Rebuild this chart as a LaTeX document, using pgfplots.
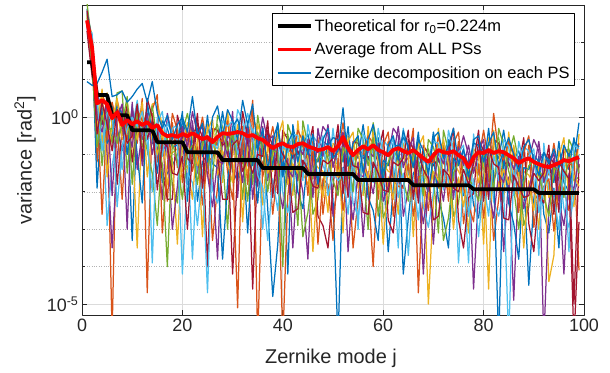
\documentclass[border=0pt]{standalone}
\usepackage{fontspec}
\setmainfont{Liberation Sans}
\usepackage{pgfplots}
\usepackage{pgfplotstable}
\pgfplotsset{compat=1.18}
\definecolor{cA}{HTML}{0072BD}
\definecolor{cB}{HTML}{D95319}
\definecolor{cC}{HTML}{EDB120}
\definecolor{cD}{HTML}{7E2F8E}
\definecolor{cE}{HTML}{77AC30}
\definecolor{cF}{HTML}{4DBEEE}
\definecolor{cG}{HTML}{A2142F}
\definecolor{axgray}{HTML}{262626}
% values are log10 of the variance [rad^2]
\pgfplotstableread{
j th avg b0 c1 c2 c3 c4 c5 c6 c7 c8 c9 c10 c11 c12 c13 c14
1 1.47 2.59 0.95 2.9 2.5 2.7 2.4 3.05 2.6 2.3 2.8 2.55 2.65 2.45 2.75 2.35 2.85
2 1.47 1.87 0.85 2.0 1.6 2.2 1.3 1.9 1.75 1.1 2.1 1.5 1.85 1.95 1.4 2.25 1.7
3 0.59 0.37 0.9 0.7 -1.2 0.4 -0.1 0.55 -0.6 0.2 -1.9 0.3 -0.3 0.0 -0.8 0.45 -0.45
4 0.59 0.45 1.2 0.1 0.6 -0.7 0.35 -1.3 0.5 -0.2 0.25 -2.6 0.75 -0.4 0.05 -0.9 0.4
5 0.59 0.35 1.55 -0.5 0.3 0.65 -1.0 0.2 -2.9 0.5 -0.7 0.0 -1.6 0.4 -0.35 0.1 -0.2
6 0.05 -0.03 0.55 0.3 -5.8 -0.2 -3.5 -0.7 -1.3 0.05 -0.45 0.4 -0.1 -2.1 -0.3 0.2 -0.9
7 0.05 0.13 0.6 -0.3 0.45 0.1 -1.1 0.65 -0.5 -1.8 0.3 -0.2 0.5 0.0 -0.7 -2.4 0.2
8 0.05 -0.21 0.7 -0.9 -0.1 -0.5 0.2 0.7 -1.4 -0.3 0.1 -2.2 -0.6 0.35 -0.2 -0.8 0.0
9 0.05 -0.08 0.4 0.2 -0.6 0.4 -0.2 -1.5 0.0 0.3 -1.0 0.1 -0.4 -3.0 0.55 -0.3 -0.7
10 -0.35 -0.19 0.55 -3.3 0.25 -0.4 -0.8 0.1 -0.3 -1.2 0.3 -0.55 -0.1 0.4 -1.8 0.0 -0.5
11 -0.35 -0.11 0.75 0.0 -0.7 -3.5 0.3 -0.4 0.45 -0.2 -1.0 0.2 -0.6 -1.4 0.1 -0.25 0.35
12 -0.35 -0.21 0.9 -0.6 0.5 0.1 -1.3 -0.2 -0.5 0.25 -2.3 -0.1 0.4 -0.4 -0.8 0.15 -1.1
13 -0.35 -0.13 0.4 0.3 -4.7 -0.3 0.0 -0.9 0.2 -0.6 0.4 -0.2 -1.6 0.1 -0.4 -0.7 0.5
14 -0.35 -0.29 0.95 -0.4 0.1 0.35 -0.7 -1.5 -3.9 -0.1 -0.5 0.2 -0.3 -1.0 0.3 -2.0 0.0
15 -0.67 -0.21 0.1 -0.5 -1.2 0.4 -0.8 -2.9 -0.15 -0.4 -1.5 0.6 -1.0 -0.25 -0.65 0.0 -1.95
16 -0.67 -0.43 -0.3 -1.75 -0.5 -0.25 -2.2 -0.75 0.15 -1.45 -0.1 -3.1 -0.4 -0.9 -1.25 -1.05 -0.65
17 -0.67 -0.51 0.05 -1.5 -2.25 -1.1 0.1 -0.55 -0.95 -2.2 -0.3 -1.3 -1.8 -0.7 -4.0 -0.15 -0.8
18 -0.67 -0.48 -0.6 -1.3 -0.15 -0.95 -0.55 -1.8 -0.3 -2.2 -0.8 0.1 -1.1 -3.0 -0.7 -0.45 -1.5
19 -0.67 -0.53 -0.2 -1.0 -1.35 -0.85 -0.5 -2.3 -0.2 0.05 -0.75 -0.35 -3.4 -1.85 -1.15 -0.6 -1.55
20 -0.67 -0.45 0.0 -0.1 -0.9 -1.45 -0.65 -0.4 -1.25 -0.5 0.15 -1.75 -0.75 -0.25 -2.2 -4.2 -1.05
21 -0.94 -0.51 -0.4 -0.55 -0.3 -1.3 -1.8 0.1 -0.7 -1.1 -2.25 -0.45 -0.15 -0.8 -0.95 -1.5 -3.0
22 -0.94 -0.43 0.55 -0.25 -1.05 -2.2 -0.1 -0.65 -3.8 -1.25 -0.4 -1.45 -0.5 0.15 -0.75 -1.75 -0.9
23 -0.94 -0.51 -0.5 -2.25 -0.7 -0.55 -1.5 -0.95 -1.1 -0.15 -0.3 -0.8 -1.3 -0.45 -1.8 -2.9 0.1
24 -0.94 -0.59 -0.16 -1.2 0.0 -3.2 -0.4 -1.6 -0.9 -0.55 -1.05 -2.35 -0.8 -0.25 -0.65 -1.4 -1.9
25 -0.94 -0.53 -1.2 -1.0 -0.85 -0.2 -1.0 -1.35 -0.6 -4.0 0.05 -1.15 -0.35 -1.55 -0.75 -4.7 -0.5
26 -0.94 -0.67 0.0 -0.6 -3.3 -0.85 -1.45 -0.45 -1.95 -0.3 -1.25 -1.1 -0.05 -2.4 -1.65 -0.7 -0.95
27 -0.94 -0.53 0.3 -0.75 -1.85 -0.5 -3.8 -0.2 -2.3 -0.35 -1.35 -0.6 -1.55 -1.15 0.05 -0.85 -1.0
28 -1.15 -0.43 -0.5 0.15 -0.4 -1.75 -0.5 -1.05 -1.45 -0.75 -3.8 -0.65 -0.9 -1.25 -0.25 -0.1 -2.2
29 -1.15 -0.45 0.2 -0.75 -1.45 0.15 -1.05 -3.0 -0.4 -0.65 -1.75 -0.1 -1.25 -0.5 -0.9 -0.25 -2.2
30 -1.15 -0.43 -0.1 -1.45 -2.2 -1.05 0.15 -0.5 -0.9 -4.2 -0.25 -1.25 -1.75 -0.65 -0.4 -0.1 -0.75
31 -1.15 -0.40 -0.6 -1.7 -0.45 -0.2 -2.15 -0.7 0.2 -1.4 -0.05 -5.1 -0.35 -0.85 -1.2 -1.0 -0.6
32 -1.15 -0.43 0.45 -0.9 -1.25 -0.75 -0.4 -2.2 -0.1 0.15 -0.65 -0.25 -2.8 -1.75 -1.05 -0.5 -1.45
33 -1.15 -0.51 -0.2 -0.15 -0.95 -1.5 -0.7 -0.45 -1.3 -0.55 -3.1 -1.8 -0.8 -0.3 -2.25 0.1 -1.1
34 -1.15 -0.48 0.35 -1.3 0.45 -0.95 -0.55 -1.8 -0.3 -4.6 -0.8 0.1 -1.1 -2.2 -0.7 -0.45 -1.5
35 -1.15 -0.56 -0.9 -0.6 -6.0 -1.35 -1.85 0.05 -0.75 -1.15 -2.3 -0.5 -0.2 -0.85 -0.4 -1.55 -1.0
36 -1.36 -0.61 -0.3 -0.4 -1.2 -2.35 -0.25 -0.8 -3.0 -1.4 -0.55 -1.6 -0.65 0.0 -0.9 -1.9 -1.05
37 -1.36 -0.72 -1.4 -2.45 -0.9 -0.75 -1.7 -1.15 -1.3 -0.35 -0.5 -1.0 -1.5 -0.65 -2.0 -3.3 -0.1
38 -1.36 -0.83 -0.6 -4.8 -0.25 -1.45 -0.65 -1.85 -1.15 -0.8 -1.3 -2.6 -1.05 -0.5 -0.9 -1.65 -2.15
39 -1.36 -0.75 -0.2 -3.4 -1.05 -0.4 -1.2 -1.55 -0.8 -2.05 -0.15 -1.35 -0.55 -1.75 -0.95 -2.5 -0.7
40 -1.36 -0.70 -1.6 -0.65 -6.0 -0.9 -1.5 -0.5 -2.0 -0.35 -1.3 -1.15 -0.1 -2.45 -4.0 -0.75 -1.0
41 -1.36 -0.78 -0.7 -4.2 -2.1 -0.75 -1.1 -0.45 -2.55 -0.6 -1.6 -0.85 -1.8 -1.4 -0.2 -0.95 -1.25
42 -1.36 -0.80 -0.4 -0.2 -0.75 -2.1 -3.5 -1.4 -1.8 -1.1 -0.85 -1.0 -1.25 -1.6 -0.6 -0.45 -2.55
43 -1.36 -0.72 -1.2 -1.0 -1.7 -0.1 -1.3 -2.9 -0.65 -0.9 -2.0 -0.35 -1.5 -0.75 -1.15 -0.5 -2.45
44 -1.36 -0.70 -0.5 -0.75 -0.5 -1.5 -2.0 -0.1 -0.9 -1.3 -2.45 -0.65 -0.35 -1.0 -3.2 -1.7 -1.15
45 -1.52 -0.78 -1.0 -0.45 -1.25 -1.8 -3.8 -0.75 -1.6 -0.85 -1.0 -2.1 -1.1 -0.6 -2.55 -0.2 -1.4
46 -1.52 -0.83 -0.45 -1.3 -1.65 -1.15 -0.8 -2.6 -0.5 -0.25 -1.05 -0.65 -3.6 -2.15 -1.45 -0.9 -1.85
47 -1.52 -0.88 -1.8 -1.7 -0.55 -1.35 -0.95 -2.2 -0.7 -2.65 -1.2 -3.4 -1.5 -0.3 -1.1 -0.85 -1.9
48 -1.52 -0.86 -0.6 -1.9 -2.6 -1.45 -0.25 -0.9 -1.3 -2.9 -0.65 -1.65 -2.15 -1.05 -0.8 -0.5 -1.15
49 -1.52 -0.80 -0.3 -0.6 -1.4 -2.55 -0.45 -1.0 -1.6 -3.5 -0.75 -1.8 -0.85 -0.2 -1.1 -2.1 -1.25
50 -1.52 -0.91 -1.1 -2.2 -0.95 -0.7 -2.65 -1.2 -0.3 -1.9 -0.55 -3.3 -0.85 -1.35 -1.7 -1.5 -1.1
51 -1.52 -0.78 -0.9 -6.0 -1.0 -0.85 -1.8 -1.25 -1.4 -0.45 -0.6 -1.1 -1.6 -0.75 -2.1 -1.7 -0.2
52 -1.52 -0.53 0.25 -1.35 -0.15 -3.1 -0.55 -1.75 -1.05 -0.7 -1.2 -2.5 -0.95 -0.4 -0.8 -1.55 -2.05
53 -1.52 -0.83 -1.3 -1.3 -1.15 -0.5 -3.6 -1.65 -0.9 -2.15 -0.25 -1.45 -0.65 -1.85 -1.05 -2.6 -0.8
54 -1.52 -1.02 -0.7 -0.95 -3.5 -1.2 -1.8 -0.8 -2.3 -0.65 -1.6 -1.45 -0.4 -2.75 -2.0 -1.05 -1.3
55 -1.68 -0.88 -0.5 -1.1 -2.2 -0.85 -1.2 -0.55 -2.65 -0.7 -1.7 -0.95 -1.9 -1.5 -0.3 -3.0 -1.35
56 -1.68 -0.78 -1.5 -0.2 -0.75 -2.1 -3.2 -1.4 -1.8 -1.1 -0.85 -1.0 -1.25 -1.6 -0.6 -0.45 -2.55
57 -1.68 -0.86 -0.6 -1.15 -1.85 -0.25 -1.45 -3.0 -0.8 -1.05 -2.15 -0.5 -1.65 -0.9 -1.3 -0.65 -2.6
58 -1.68 -0.75 -0.2 -0.8 -4.0 -1.55 -2.05 -0.15 -0.95 -1.35 -2.5 -0.7 -0.4 -1.05 -0.55 -1.75 -1.2
59 -1.68 -0.88 -1.0 -0.55 -1.35 -1.9 -1.1 -0.85 -1.7 -0.95 -3.3 -2.2 -1.2 -0.7 -2.65 -0.3 -1.5
60 -1.68 -0.94 -1.7 -1.4 -1.75 -1.25 -0.9 -2.7 -0.6 -0.35 -1.15 -0.75 -3.4 -2.25 -1.55 -1.0 -1.95
61 -1.68 -1.02 -0.75 -3.6 -0.65 -1.45 -1.05 -2.3 -0.8 -2.75 -1.3 -0.4 -1.6 -1.85 -1.2 -0.95 -2.0
62 -1.68 -0.88 -0.5 -1.9 -2.65 -1.5 -0.3 -0.95 -1.35 -3.1 -0.7 -1.7 -2.2 -1.1 -0.85 -0.55 -1.2
63 -1.68 -0.83 -1.15 -0.65 -1.45 -2.6 -0.5 -1.05 -3.5 -1.65 -0.8 -1.85 -0.9 -0.25 -1.15 -2.15 -1.3
64 -1.68 -0.91 -0.35 -4.2 -0.95 -0.7 -2.65 -1.2 -0.3 -1.9 -0.55 -1.9 -0.85 -1.35 -1.7 -1.5 -1.1
65 -1.68 -0.96 -0.85 -2.7 -1.15 -1.0 -1.95 -1.4 -1.55 -0.6 -0.75 -1.25 -1.75 -0.9 -2.25 -3.7 -0.35
66 -1.82 -0.88 -1.35 -1.5 -0.3 -3.2 -0.7 -1.9 -1.2 -0.85 -1.35 -2.65 -1.1 -0.55 -0.95 -1.7 -2.2
67 -1.82 -0.99 -0.6 -1.3 -4.7 -0.65 -1.45 -1.8 -1.05 -2.3 -0.4 -1.6 -0.8 -2.0 -1.2 -2.75 -0.95
68 -1.82 -1.10 -0.9 -1.05 -1.7 -1.3 -4.2 -0.9 -2.4 -0.75 -1.7 -1.55 -0.5 -2.85 -2.1 -1.15 -1.4
69 -1.82 -1.20 -1.55 -1.4 -2.5 -5.0 -1.5 -0.85 -2.95 -1.0 -2.0 -1.25 -2.2 -1.8 -0.6 -1.35 -1.65
70 -1.82 -1.02 -0.55 -0.4 -0.95 -2.3 -3.4 -1.6 -2.0 -1.3 -1.05 -1.2 -1.45 -1.8 -0.8 -0.65 -2.75
71 -1.82 -0.88 -0.4 -1.2 -1.9 -0.3 -1.5 -3.1 -0.85 -1.1 -2.2 -0.55 -1.7 -0.95 -1.35 -0.7 -2.65
72 -1.82 -0.94 -1.1 -1.0 -0.75 -1.75 -2.25 -0.35 -1.15 -1.55 -2.7 -0.9 -0.6 -1.25 -3.3 -1.95 -1.4
73 -1.82 -0.96 -0.75 -0.6 -1.4 -1.95 -1.15 -0.9 -1.75 -1.0 -3.5 -2.25 -1.25 -0.75 -2.7 -0.35 -1.55
74 -1.82 -0.91 -0.3 -1.35 -1.7 -1.2 -0.85 -2.65 -0.55 -0.3 -1.1 -0.7 -3.0 -2.2 -1.5 -0.95 -1.9
75 -1.82 -1.02 -1.25 -1.8 -0.65 -1.45 -1.05 -2.3 -3.9 -2.75 -1.3 -0.4 -1.6 -0.8 -1.2 -0.95 -2.0
76 -1.82 -1.10 -0.85 -2.1 -2.85 -1.7 -0.5 -1.15 -1.55 -3.5 -0.9 -1.9 -2.4 -1.3 -1.05 -0.75 -1.4
77 -1.82 -1.34 -1.6 -1.15 -1.95 -3.1 -1.0 -1.55 -3.9 -2.15 -1.3 -2.35 -1.4 -0.75 -1.65 -2.65 -1.8
78 -1.93 -1.07 -0.6 -2.35 -1.1 -0.85 -4.6 -1.35 -0.45 -2.05 -0.7 -2.8 -1.0 -1.5 -1.85 -1.65 -1.25
79 -1.93 -0.94 -0.5 -2.7 -1.15 -1.0 -1.95 -1.4 -1.55 -0.6 -0.75 -1.25 -1.75 -0.9 -2.25 -3.2 -0.35
80 -1.93 -0.96 -1.2 -1.55 -0.35 -3.4 -0.75 -1.95 -1.25 -0.9 -1.4 -2.7 -1.15 -0.6 -1.0 -1.75 -2.25
81 -1.93 -0.88 -0.7 -0.7 -1.2 -0.55 -1.35 -1.7 -0.95 -2.2 -0.3 -1.5 -4.6 -1.9 -1.1 -2.65 -0.85
82 -1.93 -0.96 -0.4 -0.9 -3.3 -1.15 -1.75 -0.75 -2.25 -0.6 -1.55 0.1 -0.35 -2.7 -1.95 -1.0 -1.25
83 -1.93 -0.91 -1.3 -1.1 -2.2 -0.85 -1.2 -0.55 -2.65 -0.7 -6.0 -0.95 -1.9 -1.5 -0.3 -1.7 -1.35
84 -1.93 -0.94 -0.9 -0.35 -0.9 -2.25 -3.6 -1.55 -1.95 -1.25 -1.0 -1.15 -1.4 -1.75 -0.75 -0.6 -2.7
85 -1.93 -1.02 -0.55 -1.3 -2.0 -0.4 -1.6 -1.05 -6.0 -1.2 -2.3 -0.65 -1.8 -1.05 -1.45 -0.8 -2.75
86 -1.93 -1.10 -1.0 -1.15 -0.9 -1.9 -4.9 -0.5 -1.3 -1.7 -2.85 -1.05 -0.75 -1.4 -1.9 -2.1 -1.55
87 -1.93 -1.23 -1.45 -0.9 -1.7 -2.25 -1.45 -1.2 -2.05 -1.3 -3.8 -2.55 -1.55 -1.05 -3.0 -0.65 -1.85
88 -1.93 -1.15 -0.8 -1.6 -1.95 -1.45 -1.1 -2.9 -0.8 -0.55 -1.35 -0.95 -3.5 -2.45 -1.75 -1.2 -2.15
89 -1.93 -1.10 -0.6 -4.5 -0.75 -1.55 -1.15 -2.4 -0.9 -2.85 -1.4 -0.5 -1.7 -1.9 -1.3 -1.05 -2.1
90 -1.93 -1.20 -1.15 -2.2 -2.95 -1.8 -0.6 -1.25 -1.65 -3.6 -1.0 -2.0 -2.5 -1.4 -1.15 -0.85 -1.5
91 -2.03 -1.26 -1.55 -1.05 -1.85 -3.0 -0.9 -1.45 -3.7 -2.05 -1.2 -2.25 -1.3 -0.65 -1.55 -2.55 -1.7
92 -2.03 -1.31 -0.95 -2.6 -1.35 -1.1 -6.0 -1.6 -0.7 -2.3 -0.95 -1.85 -1.25 -1.75 -2.1 -1.9 -1.5
93 -2.03 -1.34 -1.25 -3.1 -1.55 -4.4 -2.35 -1.8 -1.95 -1.0 -1.15 -1.65 -2.15 -1.3 -2.65 -1.4 -0.75
94 -2.03 -1.28 -0.85 -1.9 -0.7 -3.7 -1.1 -2.3 -1.6 -1.25 -1.75 -3.05 -1.5 -0.95 -1.35 -2.1 -2.6
95 -2.03 -1.23 -1.35 -3.5 -1.55 -0.9 -1.7 -2.05 -1.3 -2.55 -0.65 -1.85 -1.05 -2.25 -1.45 -3.0 -1.2
96 -2.03 -1.15 -0.75 -1.1 -1.95 -1.35 -4.2 -0.95 -2.45 -0.8 -1.75 -1.6 -0.55 -2.9 -2.15 -1.2 -1.45
97 -2.03 -1.18 -1.05 -1.4 -2.5 -1.15 -1.5 -0.85 -2.95 -1.0 -2.0 -1.25 -2.2 -1.8 -0.6 -3.6 -1.65
98 -2.03 -1.12 -0.65 -0.55 -1.05 -2.4 -2.0 -1.7 -2.1 -5.0 -1.15 -1.3 -1.55 -1.9 -0.9 -0.75 -6.0
99 -2.03 -1.07 -0.8 -1.35 -4.1 -0.45 -1.65 -1.6 -1.0 -1.25 -0.15 -0.7 -1.85 -1.1 -1.5 -0.85 -2.8
}\zdata
\begin{document}
\begin{tikzpicture}
\path[use as bounding box] (-82bp,-58bp) rectangle (528bp,315bp);
\begin{axis}[
  scale only axis, width=502bp, height=310bp,
  xmin=0, xmax=100, ymin=-5.294, ymax=3,
  xtick={0,20,40,60,80,100}, xticklabels={0,20,40,60,80,100},
  ytick={-5,0}, yticklabels={10\textsuperscript{-5},10\textsuperscript{0}},
  minor ytick={-4,-3,-2,-1,1,2},
  tick align=inside, major tick length=5bp, minor tick length=3bp,
  grid=both,
  major grid style={black!14, line width=0.7bp},
  minor grid style={black!30, dotted, line width=0.7bp},
  axis line style={axgray, line width=0.9bp},
  every tick/.style={axgray, line width=0.8bp},
  ticklabel style={font=\fontsize{18}{20}\selectfont, text=axgray},
  xlabel={Zernike mode j},
  ylabel={variance [rad\textsuperscript{2}]},
  label style={font=\fontsize{20}{22}\selectfont, text=axgray},
  xlabel style={at={(axis description cs:0.496,-0.155)}, anchor=base},
  ylabel style={at={(axis description cs:-0.1135,0.5)}, anchor=center},
  legend style={at={(0.982,0.974)}, anchor=north east, draw=black, line width=0.8bp,
    fill=white, font=\fontsize{16.5}{18}\selectfont, inner xsep=3bp, inner ysep=4bp,
    row sep=6bp},
  legend cell align=left,
  legend image code/.code={\draw[#1] (0bp,0bp) -- (33bp,0bp);},
  line join=round,
]
\addlegendimage{black, line width=3.8bp}
\addlegendentry{Theoretical for r\textsubscript{0}=0.224m}
\addlegendimage{red, line width=3.8bp}
\addlegendentry{Average from ALL PSs}
\addlegendimage{cA, line width=1.2bp}
\addlegendentry{Zernike decomposition on each PS}
\addplot[forget plot, cA, line width=1.25bp] table[x=j, y=c1] {\zdata};
\addplot[forget plot, cB, line width=1.25bp] table[x=j, y=c2] {\zdata};
\addplot[forget plot, cC, line width=1.25bp] table[x=j, y=c3] {\zdata};
\addplot[forget plot, cD, line width=1.25bp] table[x=j, y=c4] {\zdata};
\addplot[forget plot, cE, line width=1.25bp] table[x=j, y=c5] {\zdata};
\addplot[forget plot, cF, line width=1.25bp] table[x=j, y=c6] {\zdata};
\addplot[forget plot, cG, line width=1.25bp] table[x=j, y=c7] {\zdata};
\addplot[forget plot, cA, line width=1.25bp] table[x=j, y=c8] {\zdata};
\addplot[forget plot, cB, line width=1.25bp] table[x=j, y=c9] {\zdata};
\addplot[forget plot, cC, line width=1.25bp] table[x=j, y=c10] {\zdata};
\addplot[forget plot, cD, line width=1.25bp] table[x=j, y=c11] {\zdata};
\addplot[forget plot, cE, line width=1.25bp] table[x=j, y=c12] {\zdata};
\addplot[forget plot, cF, line width=1.25bp] table[x=j, y=c13] {\zdata};
\addplot[forget plot, cG, line width=1.25bp] table[x=j, y=c14] {\zdata};
\addplot[forget plot, cA, line width=1.25bp] table[x=j, y=b0] {\zdata};
\addplot[forget plot, black, line width=3.8bp] table[x=j, y=th] {\zdata};
\addplot[forget plot, red, line width=3.8bp] table[x=j, y=avg] {\zdata};
\end{axis}
\end{tikzpicture}
\end{document}
